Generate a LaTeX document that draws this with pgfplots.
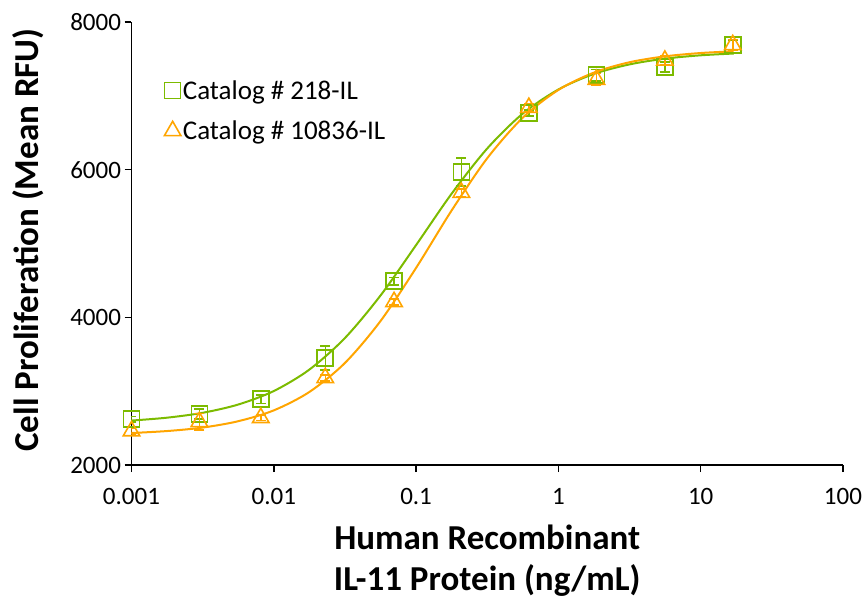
\documentclass[border=0pt]{standalone}
\usepackage{fontspec}
\setmainfont{Carlito}
\usepackage{pgfplots}
\usepackage{pgfplotstable}
\pgfplotsset{compat=1.18}
\definecolor{cgreen}{RGB}{124,187,0}
\definecolor{corange}{RGB}{255,165,0}
\newcommand{\tickfont}{\fontsize{25}{30}\selectfont}
\newcommand{\legfont}{\fontsize{27}{32}\selectfont}
\newcommand{\labfont}{\bfseries\fontsize{35}{41}\selectfont}

\pgfplotstableread{
x y e
0.001 2620 40
0.003 2690 70
0.0081 2890 60
0.023 3450 160
0.070 4490 50
0.208 5970 190
0.62 6770 40
1.85 7280 80
5.6 7390 70
16.8 7690 60
}\greenpts

\pgfplotstableread{
x y e
0.001 2460 40
0.003 2585 110
0.0081 2640 40
0.023 3180 40
0.070 4210 40
0.208 5690 50
0.62 6840 50
1.85 7220 80
5.6 7480 60
16.8 7690 70
}\orangepts

\pgfplotstableread{
x y
0.001 2602
0.001778 2641
0.003162 2707
0.005623 2819
0.01 3002
0.01778 3292
0.03162 3720
0.05623 4296
0.1 4979
0.1778 5675
0.3162 6287
0.5623 6760
1 7086
1.778 7297
3.162 7426
5.623 7504
10 7549
17.06 7573
}\greencurve

\pgfplotstableread{
x y
0.001 2433
0.001778 2460
0.003162 2507
0.005623 2593
0.01 2740
0.01778 2989
0.03162 3382
0.05623 3950
0.1 4670
0.1778 5448
0.3162 6155
0.5623 6705
1 7080
1.778 7315
3.162 7455
5.623 7535
10 7580
17.06 7603
}\orangecurve

\begin{document}
\begin{tikzpicture}
\begin{axis}[name=ax, scale only axis, width=711.5pt, height=443pt,
  xmode=log, xmin=0.001, xmax=100, ymin=2000, ymax=8000,
  axis x line=bottom, axis y line=left,
  axis line style={line width=1.5pt, -},
  xtick={0.001,0.01,0.1,1,10,100},
  xticklabels={0.001,0.01,0.1,1,10,100},
  xminorticks=false,
  ytick={2000,4000,6000,8000},
  yticklabels={2000,4000,6000,8000},
  tick align=outside, major tick length=7pt,
  tick style={line width=1.5pt, black},
  /pgf/number format/assume math mode=true,
  ticklabel style={font=\tickfont},
  xticklabel style={yshift=-13pt},
  xlabel={Human Recombinant\\IL-11 Protein (ng/mL)},
  xlabel style={at={(axis description cs:0.5,-0.215)}, anchor=center, align=center, font=\labfont},
  ylabel={Cell Proliferation (Mean RFU)},
  ylabel style={at={(axis description cs:-0.1455,0.508)}, anchor=center, font=\labfont},
  legend style={at={(axis description cs:0.046,0.873)}, anchor=north west, draw=none, fill=none,
    font=\legfont, row sep=16pt, inner sep=0pt},
  legend cell align=left,
]
\addplot[cgreen, line width=2pt, smooth, no marks, forget plot] table[x=x,y=y] {\greencurve};
\addplot[cgreen, only marks, mark=square, mark size=8pt, line width=1.6pt,
  error bars/.cd, y dir=both, y explicit,
  error bar style={line width=1.5pt, cgreen},
  error mark options={rotate=90, mark size=5pt, line width=1.5pt, cgreen}]
  table[x=x,y=y,y error=e] {\greenpts};
\addlegendentry{Catalog \# 218-IL}
\addplot[corange, line width=2pt, smooth, no marks, forget plot] table[x=x,y=y] {\orangecurve};
\addplot[corange, only marks, mark=triangle, mark size=9.5pt, line width=1.6pt,
  error bars/.cd, y dir=both, y explicit,
  error bar style={line width=1.5pt, corange},
  error mark options={rotate=90, mark size=5pt, line width=1.5pt, corange}]
  table[x=x,y=y,y error=e] {\orangepts};
\addlegendentry{Catalog \# 10836-IL}
\end{axis}
\pgfresetboundingbox
\path (ax.south west) ++(-131.5pt,-133pt) rectangle ++(864pt,598pt);
\end{tikzpicture}
\end{document}
